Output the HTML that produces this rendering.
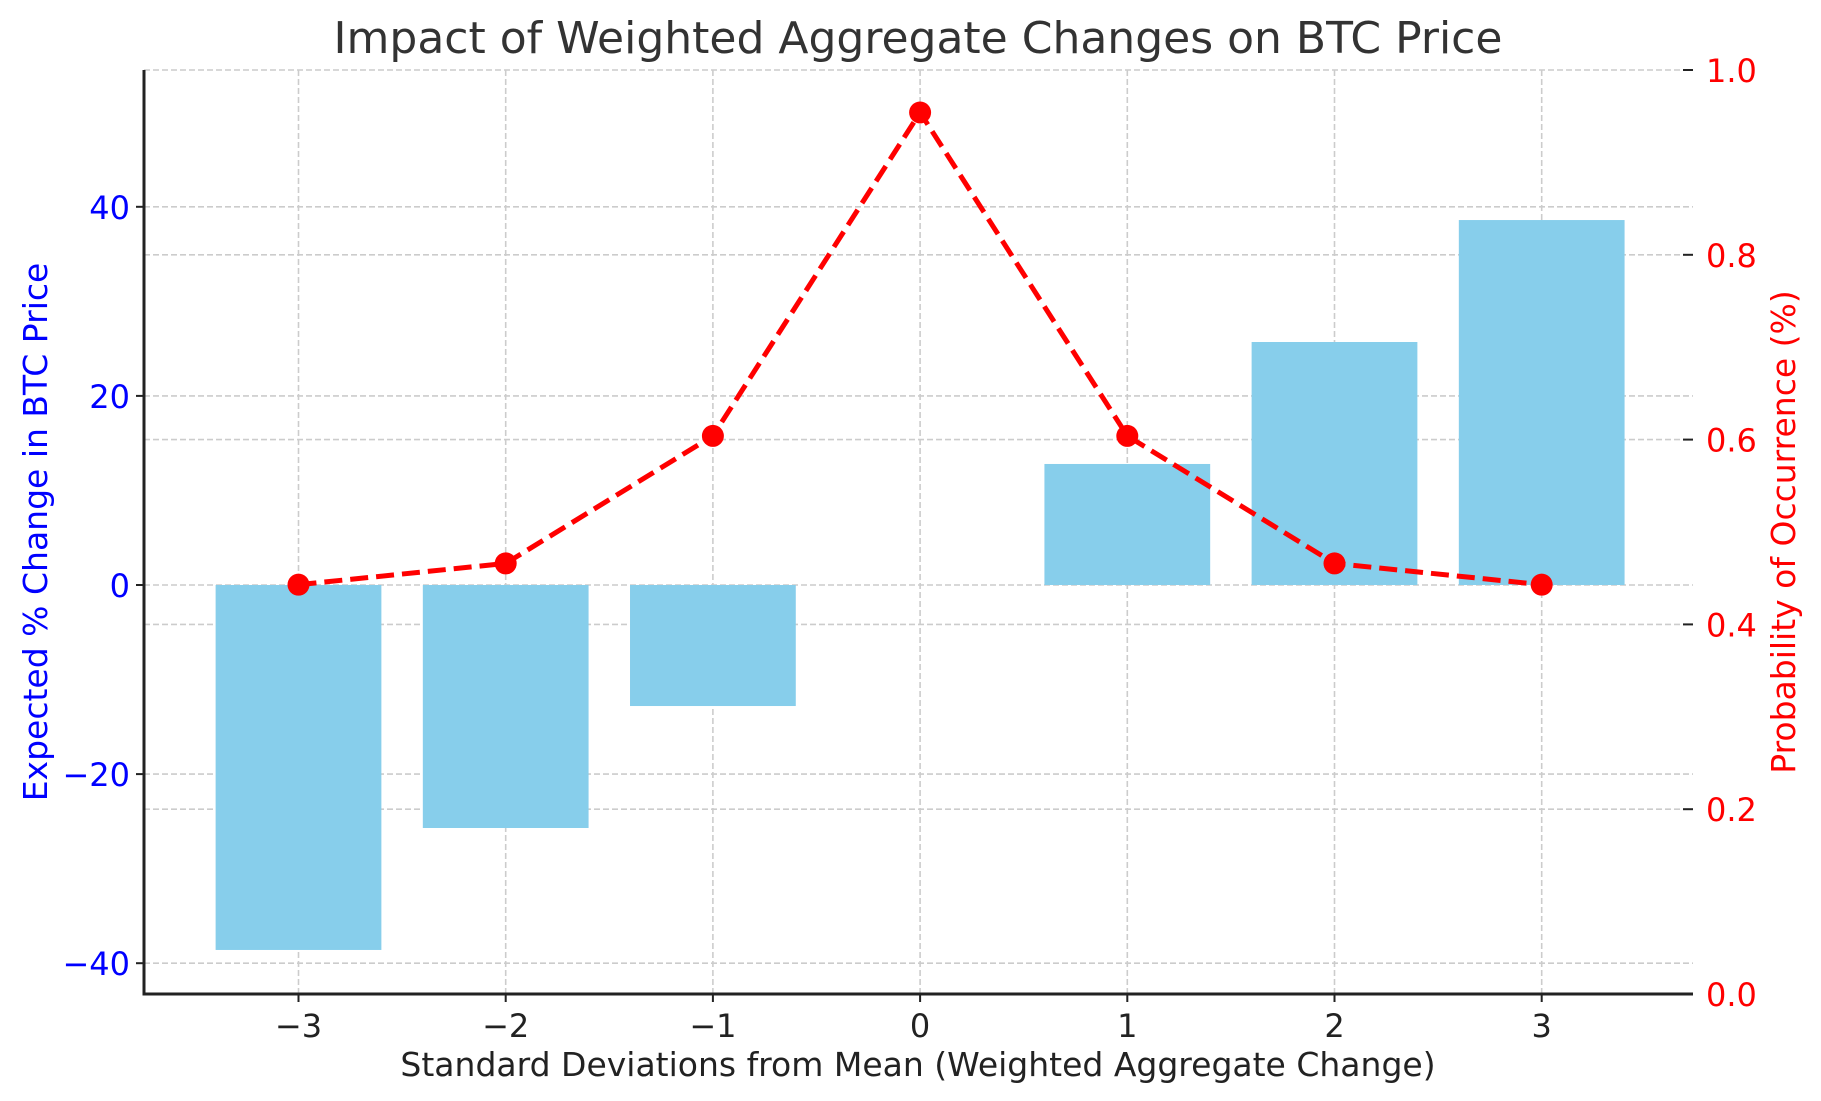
<!DOCTYPE html>
<html><head><meta charset="utf-8"><style>
html,body{margin:0;padding:0;background:#fff;}
svg{display:block;font-family:"DejaVu Sans","Liberation Sans",sans-serif;}
</style></head><body>
<svg id="chart" width="1821" height="1101" viewBox="0 0 1821 1101" xmlns="http://www.w3.org/2000/svg">
<text x="918" y="53" text-anchor="middle" font-size="44" fill="#333">Impact of Weighted Aggregate Changes on BTC Price</text>
<g id="grid"></g><g id="bars"></g><g id="line"></g><g id="axes"></g>
<text x="918" y="1076" text-anchor="middle" font-size="33" fill="#222">Standard Deviations from Mean (Weighted Aggregate Change)</text>
<text transform="translate(47,532) rotate(-90)" text-anchor="middle" font-size="33" fill="#0000ff">Expected % Change in BTC Price</text>
<text transform="translate(1795,532) rotate(-90)" text-anchor="middle" font-size="33" fill="#ff0000">Probability of Occurrence (%)</text>
</svg>
<script>
const categories = [-3, -2, -1, 0, 1, 2, 3];
const expectedChange = [-38.6, -25.7, -12.8, 0, 12.8, 25.7, 38.6];
const probability = [0.443, 0.466, 0.604, 0.954, 0.604, 0.466, 0.443];
const xTicks = [-3, -2, -1, 0, 1, 2, 3];
const leftTicks = [-40, -20, 0, 20, 40];
const rightTicks = [0.0, 0.2, 0.4, 0.6, 0.8, 1.0];

const L = 144, R = 1693, T = 70, B = 994;
const NS = "http://www.w3.org/2000/svg";
function xs(v){ return 298.5 + (v + 3) * 207.2; }
function yl(v){ return 585 - v * 9.455; }
function yr(v){ return B - v * (B - T); }
function mk(tag, attrs, parent){ const e = document.createElementNS(NS, tag); for (const k in attrs) e.setAttribute(k, attrs[k]); parent.appendChild(e); return e; }
const grid = document.getElementById('grid'), bars = document.getElementById('bars'), line = document.getElementById('line'), axes = document.getElementById('axes');
const gs = {stroke:'#cccccc','stroke-width':1.6,'stroke-dasharray':'6,3'};

xTicks.forEach(t => {
  const g = mk('line', Object.assign({x1:xs(t),x2:xs(t),y1:T,y2:B}, gs), grid);
  
  
  const tk = mk('line', {x1:xs(t),x2:xs(t),y1:B,y2:B+8,stroke:'#222','stroke-width':2}, axes);
  
  
  const tx = mk('text', {x:xs(t),y:B+43,'text-anchor':'middle','font-size':32,fill:'#222'}, axes);
  tx.textContent = t < 0 ? '\u2212' + Math.abs(t) : String(t);
  
  
});
leftTicks.forEach(t => {
  const g = mk('line', Object.assign({x1:L,x2:R,y1:yl(t),y2:yl(t)}, gs), grid);
  
  
  const tk = mk('line', {x1:L-8,x2:L,y1:yl(t),y2:yl(t),stroke:'#222','stroke-width':2}, axes);
  
  
  const tx = mk('text', {x:L-14,y:yl(t)+12,'text-anchor':'end','font-size':32,fill:'#0000ff'}, axes);
  tx.textContent = t < 0 ? '\u2212' + Math.abs(t) : String(t);
  
  
});
rightTicks.forEach(t => {
  const g = mk('line', Object.assign({x1:L,x2:R,y1:yr(t),y2:yr(t)}, gs), grid);
  
  
  const tk = mk('line', {x1:R-10,x2:R,y1:yr(t),y2:yr(t),stroke:'#222','stroke-width':2}, axes);
  
  
  const tx = mk('text', {x:R+13,y:yr(t)+12,'text-anchor':'start','font-size':32,fill:'#ff0000'}, axes);
  tx.textContent = t.toFixed(1);
  
  
});
categories.forEach((c, i) => {
  const v = expectedChange[i];
  const y0 = yl(0), y1 = yl(v);
  const r = mk('rect', {x:xs(c-0.4), width:xs(c+0.4)-xs(c-0.4), y:Math.min(y0,y1), height:Math.abs(y1-y0), fill:'#87ceeb'}, bars);
  
  
});
const pts = categories.map((c, i) => xs(c) + ',' + yr(probability[i])).join(' ');
const pl = mk('polyline', {points:pts, fill:'none', stroke:'#ff0000','stroke-width':5,'stroke-dasharray':'18,8'}, line);


categories.forEach((c, i) => {
  const p = mk('circle', {cx:xs(c), cy:yr(probability[i]), r:11, fill:'#ff0000'}, line);
  
  
});
const ls = mk('line', {x1:L,x2:L,y1:T,y2:B+1.5,stroke:'#222','stroke-width':3}, axes);


const bs = mk('line', {x1:L-1.5,x2:R,y1:B,y2:B,stroke:'#222','stroke-width':3}, axes);


</script>
</body></html>
